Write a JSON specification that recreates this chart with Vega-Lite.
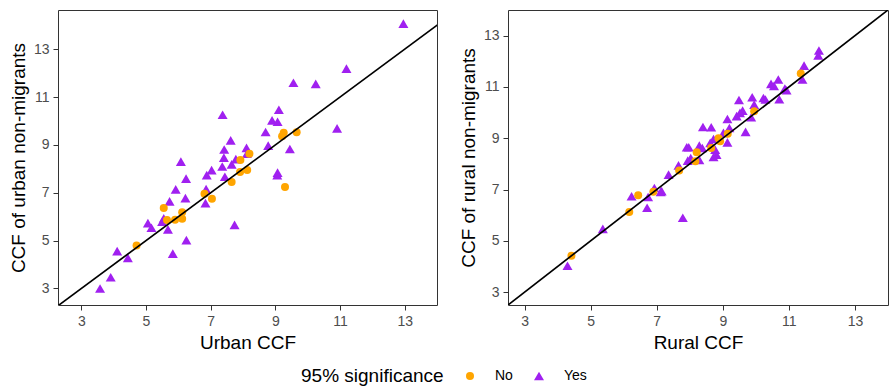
{
  "$schema": "https://vega.github.io/schema/vega-lite/v6.json",
  "padding": {"left": 8, "top": 9, "right": 1, "bottom": 5},
  "datasets": {
    "urban": [
      {"x": 12.96, "y": 14.07, "sig": "Yes"},
      {"x": 11.2, "y": 12.19, "sig": "Yes"},
      {"x": 9.56, "y": 11.6, "sig": "Yes"},
      {"x": 10.25, "y": 11.55, "sig": "Yes"},
      {"x": 7.37, "y": 10.26, "sig": "Yes"},
      {"x": 9.11, "y": 10.47, "sig": "Yes"},
      {"x": 8.9, "y": 10.03, "sig": "Yes"},
      {"x": 9.07, "y": 9.97, "sig": "Yes"},
      {"x": 10.91, "y": 9.69, "sig": "Yes"},
      {"x": 8.7, "y": 9.54, "sig": "Yes"},
      {"x": 7.62, "y": 9.19, "sig": "Yes"},
      {"x": 8.78, "y": 8.97, "sig": "Yes"},
      {"x": 8.11, "y": 8.88, "sig": "Yes"},
      {"x": 7.42, "y": 8.81, "sig": "Yes"},
      {"x": 9.45, "y": 8.83, "sig": "Yes"},
      {"x": 8.12, "y": 8.63, "sig": "Yes"},
      {"x": 7.41, "y": 8.47, "sig": "Yes"},
      {"x": 7.78, "y": 8.41, "sig": "Yes"},
      {"x": 7.65, "y": 8.19, "sig": "Yes"},
      {"x": 7.36, "y": 8.1, "sig": "Yes"},
      {"x": 6.08, "y": 8.3, "sig": "Yes"},
      {"x": 7.03, "y": 7.95, "sig": "Yes"},
      {"x": 6.88, "y": 7.74, "sig": "Yes"},
      {"x": 7.44, "y": 7.67, "sig": "Yes"},
      {"x": 6.24, "y": 7.59, "sig": "Yes"},
      {"x": 9.07, "y": 7.84, "sig": "Yes"},
      {"x": 9.06, "y": 7.74, "sig": "Yes"},
      {"x": 5.92, "y": 7.14, "sig": "Yes"},
      {"x": 6.86, "y": 7.15, "sig": "Yes"},
      {"x": 5.73, "y": 6.64, "sig": "Yes"},
      {"x": 6.22, "y": 6.78, "sig": "Yes"},
      {"x": 6.84, "y": 6.57, "sig": "Yes"},
      {"x": 5.06, "y": 5.73, "sig": "Yes"},
      {"x": 5.17, "y": 5.54, "sig": "Yes"},
      {"x": 5.55, "y": 5.93, "sig": "Yes"},
      {"x": 5.5, "y": 5.79, "sig": "Yes"},
      {"x": 5.68, "y": 5.47, "sig": "Yes"},
      {"x": 6.25, "y": 5.02, "sig": "Yes"},
      {"x": 7.74, "y": 5.66, "sig": "Yes"},
      {"x": 5.83, "y": 4.46, "sig": "Yes"},
      {"x": 4.11, "y": 4.56, "sig": "Yes"},
      {"x": 4.44, "y": 4.28, "sig": "Yes"},
      {"x": 3.91, "y": 3.47, "sig": "Yes"},
      {"x": 3.58, "y": 3.0, "sig": "Yes"},
      {"x": 9.26, "y": 9.51, "sig": "No"},
      {"x": 9.21, "y": 9.36, "sig": "No"},
      {"x": 9.66, "y": 9.53, "sig": "No"},
      {"x": 8.2, "y": 8.63, "sig": "No"},
      {"x": 7.92, "y": 8.37, "sig": "No"},
      {"x": 7.91, "y": 7.87, "sig": "No"},
      {"x": 8.13, "y": 7.95, "sig": "No"},
      {"x": 7.65, "y": 7.45, "sig": "No"},
      {"x": 9.3, "y": 7.24, "sig": "No"},
      {"x": 7.04, "y": 6.75, "sig": "No"},
      {"x": 6.81, "y": 6.96, "sig": "No"},
      {"x": 5.55, "y": 6.36, "sig": "No"},
      {"x": 6.12, "y": 6.19, "sig": "No"},
      {"x": 6.12, "y": 5.91, "sig": "No"},
      {"x": 5.9, "y": 5.87, "sig": "No"},
      {"x": 5.65, "y": 5.86, "sig": "No"},
      {"x": 4.71, "y": 4.8, "sig": "No"}
    ],
    "rural": [
      {"x": 11.91, "y": 12.42, "sig": "Yes"},
      {"x": 11.89, "y": 12.23, "sig": "Yes"},
      {"x": 11.46, "y": 11.83, "sig": "Yes"},
      {"x": 11.41, "y": 11.29, "sig": "Yes"},
      {"x": 10.68, "y": 11.29, "sig": "Yes"},
      {"x": 10.46, "y": 11.12, "sig": "Yes"},
      {"x": 10.55, "y": 11.04, "sig": "Yes"},
      {"x": 10.88, "y": 10.94, "sig": "Yes"},
      {"x": 10.93, "y": 10.87, "sig": "Yes"},
      {"x": 10.71, "y": 10.52, "sig": "Yes"},
      {"x": 10.23, "y": 10.57, "sig": "Yes"},
      {"x": 10.29, "y": 10.51, "sig": "Yes"},
      {"x": 9.89, "y": 10.6, "sig": "Yes"},
      {"x": 9.49, "y": 10.49, "sig": "Yes"},
      {"x": 9.95, "y": 10.31, "sig": "Yes"},
      {"x": 9.6, "y": 10.08, "sig": "Yes"},
      {"x": 9.52, "y": 9.99, "sig": "Yes"},
      {"x": 9.42, "y": 9.86, "sig": "Yes"},
      {"x": 9.86, "y": 9.82, "sig": "Yes"},
      {"x": 9.14, "y": 9.75, "sig": "Yes"},
      {"x": 9.2, "y": 9.4, "sig": "Yes"},
      {"x": 9.69, "y": 9.25, "sig": "Yes"},
      {"x": 8.4, "y": 9.44, "sig": "Yes"},
      {"x": 8.65, "y": 9.43, "sig": "Yes"},
      {"x": 9.02, "y": 9.21, "sig": "Yes"},
      {"x": 8.72, "y": 8.97, "sig": "Yes"},
      {"x": 8.62, "y": 8.82, "sig": "Yes"},
      {"x": 9.14, "y": 8.84, "sig": "Yes"},
      {"x": 8.29, "y": 8.71, "sig": "Yes"},
      {"x": 8.38, "y": 8.62, "sig": "Yes"},
      {"x": 7.91, "y": 8.65, "sig": "Yes"},
      {"x": 7.97, "y": 8.65, "sig": "Yes"},
      {"x": 8.77, "y": 8.56, "sig": "Yes"},
      {"x": 8.81, "y": 8.36, "sig": "Yes"},
      {"x": 8.72, "y": 8.27, "sig": "Yes"},
      {"x": 8.03, "y": 8.23, "sig": "Yes"},
      {"x": 8.29, "y": 8.16, "sig": "Yes"},
      {"x": 7.94, "y": 8.13, "sig": "Yes"},
      {"x": 7.66, "y": 7.94, "sig": "Yes"},
      {"x": 7.36, "y": 7.58, "sig": "Yes"},
      {"x": 6.93, "y": 7.06, "sig": "Yes"},
      {"x": 7.12, "y": 6.91, "sig": "Yes"},
      {"x": 7.15, "y": 6.94, "sig": "Yes"},
      {"x": 6.74, "y": 6.71, "sig": "Yes"},
      {"x": 6.24, "y": 6.74, "sig": "Yes"},
      {"x": 6.71, "y": 6.29, "sig": "Yes"},
      {"x": 7.79, "y": 5.9, "sig": "Yes"},
      {"x": 5.37, "y": 5.47, "sig": "Yes"},
      {"x": 4.3, "y": 4.03, "sig": "Yes"},
      {"x": 11.36, "y": 11.52, "sig": "No"},
      {"x": 9.95, "y": 10.05, "sig": "No"},
      {"x": 9.15, "y": 9.18, "sig": "No"},
      {"x": 8.92, "y": 8.88, "sig": "No"},
      {"x": 8.87, "y": 9.0, "sig": "No"},
      {"x": 8.65, "y": 8.62, "sig": "No"},
      {"x": 8.21, "y": 8.45, "sig": "No"},
      {"x": 8.17, "y": 8.1, "sig": "No"},
      {"x": 7.68, "y": 7.74, "sig": "No"},
      {"x": 6.9, "y": 6.91, "sig": "No"},
      {"x": 6.44, "y": 6.78, "sig": "No"},
      {"x": 6.17, "y": 6.13, "sig": "No"},
      {"x": 4.42, "y": 4.42, "sig": "No"}
    ],
    "diag": [{"a": 0, "b": 20}]
  },
  "hconcat": [
    {
      "width": 379,
      "height": 295,
      "layer": [
        {
          "data": {"name": "urban"},
          "mark": {"type": "point", "filled": true, "opacity": 1, "clip": true},
          "encoding": {
            "x": {"field": "x", "type": "quantitative", "title": "Urban CCF", "scale": {"domain": [2.28, 14.0], "nice": false, "zero": false}, "axis": {"values": [3, 5, 7, 9, 11, 13]}},
            "y": {"field": "y", "type": "quantitative", "title": "CCF of urban non-migrants", "scale": {"domain": [2.31, 14.64], "nice": false, "zero": false}, "axis": {"values": [3, 5, 7, 9, 11, 13]}},
            "color": {"field": "sig", "type": "nominal", "title": "95% significance", "scale": {"domain": ["No", "Yes"], "range": ["#FFA500", "#A020F0"]},
              "legend": {"orient": "none", "legendX": 243, "legendY": 359, "direction": "horizontal", "titleOrient": "left"}},
            "shape": {"field": "sig", "type": "nominal", "title": "95% significance", "scale": {"domain": ["No", "Yes"], "range": ["circle", "triangle-up"]},
              "legend": {"orient": "none", "legendX": 243, "legendY": 359, "direction": "horizontal", "titleOrient": "left"}},
            "size": {"field": "sig", "type": "nominal", "legend": null, "scale": {"domain": ["No", "Yes"], "range": [64, 100]}}
          }
        },
        {
          "data": {"name": "diag"},
          "mark": {"type": "rule", "color": "#000000", "strokeWidth": 1.7, "clip": true},
          "encoding": {
            "x": {"field": "a", "type": "quantitative"},
            "y": {"field": "a", "type": "quantitative"},
            "x2": {"field": "b"},
            "y2": {"field": "b"}
          }
        }
      ]
    },
    {
      "width": 380,
      "height": 295,
      "layer": [
        {
          "data": {"name": "rural"},
          "mark": {"type": "point", "filled": true, "opacity": 1, "clip": true},
          "encoding": {
            "x": {"field": "x", "type": "quantitative", "title": "Rural CCF", "scale": {"domain": [2.5, 14.0], "nice": false, "zero": false}, "axis": {"values": [3, 5, 7, 9, 11, 13]}},
            "y": {"field": "y", "type": "quantitative", "title": "CCF of rural non-migrants", "scale": {"domain": [2.5, 14.0], "nice": false, "zero": false}, "axis": {"values": [3, 5, 7, 9, 11, 13]}},
            "color": {"field": "sig", "type": "nominal", "title": "95% significance", "scale": {"domain": ["No", "Yes"], "range": ["#FFA500", "#A020F0"]}},
            "shape": {"field": "sig", "type": "nominal", "title": "95% significance", "scale": {"domain": ["No", "Yes"], "range": ["circle", "triangle-up"]}},
            "size": {"field": "sig", "type": "nominal", "legend": null, "scale": {"domain": ["No", "Yes"], "range": [64, 100]}}
          }
        },
        {
          "data": {"name": "diag"},
          "mark": {"type": "rule", "color": "#000000", "strokeWidth": 1.7, "clip": true},
          "encoding": {
            "x": {"field": "a", "type": "quantitative"},
            "y": {"field": "a", "type": "quantitative"},
            "x2": {"field": "b"},
            "y2": {"field": "b"}
          }
        }
      ]
    }
  ],
  "resolve": {"scale": {"x": "independent", "y": "independent"}},
  "config": {
    "font": "Liberation Sans",
    "view": {"stroke": "#333333", "strokeWidth": 1},
    "axis": {
      "grid": false,
      "domain": false,
      "tickColor": "#333333",
      "tickSize": 5,
      "labelColor": "#4D4D4D",
      "labelFontSize": 14,
      "labelPadding": 4,
      "labelFont": "Liberation Sans",
      "titleFont": "Liberation Sans",
      "titleFontSize": 19,
      "titleFontWeight": "normal",
      "titleColor": "#000000",
      "titlePadding": 5
    },
    "legend": {
      "titleFont": "Liberation Sans",
      "titleFontSize": 19,
      "titleFontWeight": "normal",
      "titleColor": "#000000",
      "titlePadding": 19,
      "labelFont": "Liberation Sans",
      "labelFontSize": 14,
      "labelColor": "#000000",
      "labelOffset": 18,
      "columnPadding": 19,
      "symbolSize": 50,
      "symbolStrokeWidth": 0
    }
  }
}
